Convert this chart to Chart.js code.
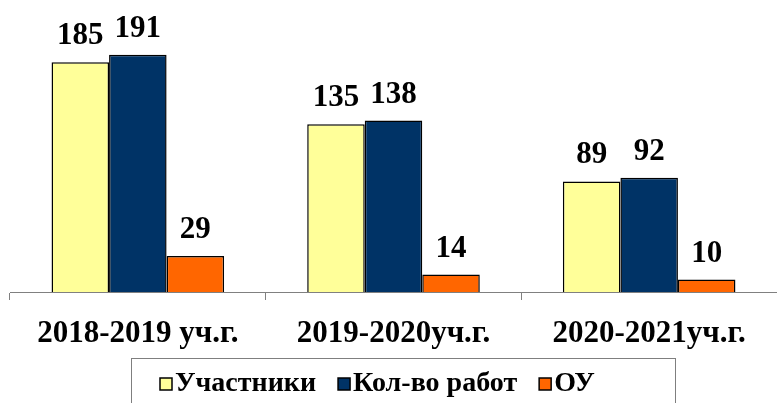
<!DOCTYPE html>
<html>
<head>
<meta charset="utf-8">
<script src="https://cdn.jsdelivr.net/npm/chart.js@4"></script>
<style>
  html, body { margin: 0; padding: 0; background: #fff; overflow: hidden; }
  #wrap { width: 777px; height: 403px; position: relative; }
</style>
</head>
<body>
<div id="wrap"><canvas id="chart"></canvas></div>
<script>
// данные диаграммы
const categories = ['2018-2019 уч.г.', '2019-2020уч.г.', '2020-2021уч.г.'];
const seriesNames = ['Участники', 'Кол-во работ', 'ОУ'];
const participants = [185, 135, 89];
const works = [191, 138, 92];
const schools = [29, 14, 10];

const FONT = '"Liberation Serif", "Times New Roman", serif';

// подписи значений над столбцами
const valueLabels = {
  id: 'valueLabels',
  afterDatasetsDraw(chart) {
    const ctx = chart.ctx;
    ctx.save();
    ctx.font = 'bold 31px ' + FONT;
    ctx.fillStyle = '#000';
    ctx.textAlign = 'center';
    ctx.textBaseline = 'alphabetic';
    chart.data.datasets.forEach((ds, i) => {
      chart.getDatasetMeta(i).data.forEach((bar, j) => {
        ctx.fillText(ds.data[j], bar.x, bar.y - 18);
      });
    });
    ctx.restore();
  }
};

// легенда в рамке, как в Excel
const boxLegend = {
  id: 'boxLegend',
  afterDraw(chart) {
    const ctx = chart.ctx;
    const frameLeft = 131, frameTop = 358, frameWidth = 544;
    ctx.save();
    ctx.strokeStyle = '#7f7f7f';
    ctx.lineWidth = 1;
    ctx.strokeRect(frameLeft + 0.5, frameTop + 0.5, frameWidth, 100);

    ctx.font = 'bold 28px ' + FONT;
    ctx.textBaseline = 'middle';
    ctx.textAlign = 'left';
    let x = frameLeft + 29;
    const cy = 384;
    chart.data.datasets.forEach(ds => {
      ctx.fillStyle = ds.backgroundColor;
      ctx.fillRect(x, cy - 6, 12, 12);
      ctx.strokeStyle = '#000';
      ctx.lineWidth = 1.5;
      ctx.strokeRect(x, cy - 6, 12, 12);
      ctx.fillStyle = '#000';
      ctx.fillText(ds.label, x + 15, cy);
      x += 15 + ctx.measureText(ds.label).width + 22;
    });
    ctx.restore();
  }
};

new Chart(document.getElementById('chart'), {
  type: 'bar',
  data: {
    labels: categories,
    datasets: [
      { label: seriesNames[0], data: participants, backgroundColor: '#ffff99', borderColor: '#000', borderWidth: 1.5 },
      { label: seriesNames[1], data: works, backgroundColor: '#003366', borderColor: '#000', borderWidth: 1.5 },
      { label: seriesNames[2], data: schools, backgroundColor: '#ff6600', borderColor: '#000', borderWidth: 1.5 }
    ]
  },
  options: {
    responsive: true,
    maintainAspectRatio: false,
    animation: false,
    layout: { padding: { left: 10, right: -4, top: 0, bottom: 45 } },
    datasets: { bar: { categoryPercentage: 0.675, barPercentage: 1 } },
    scales: {
      x: {
        grid: { drawOnChartArea: false, drawTicks: true, tickLength: 8, color: '#808080', offset: true },
        border: { display: true, color: '#808080', width: 1 },
        ticks: { color: '#000', font: { family: FONT, size: 31, weight: 'bold' }, padding: 15, maxRotation: 0 },
        afterFit(scale) { scale.height = 66; }
      },
      y: { display: false, min: 0, max: 235 }
    },
    plugins: {
      legend: { display: false },
      tooltip: { enabled: false }
    }
  },
  plugins: [valueLabels, boxLegend]
});
</script>
</body>
</html>
